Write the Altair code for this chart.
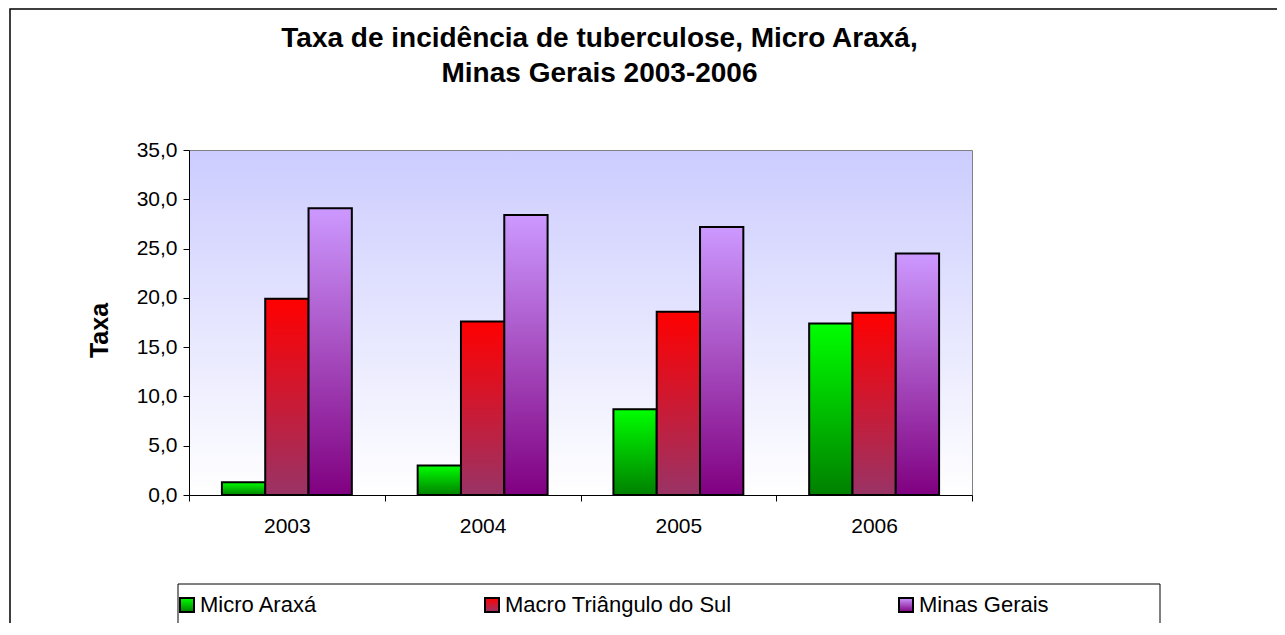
import altair as alt
import pandas as pd

# ---- data ----
anos = ["2003", "2004", "2005", "2006"]
series = ["Micro Araxá", "Macro Triângulo do Sul", "Minas Gerais"]
micro_araxa = [1.3, 3.0, 8.7, 17.4]
macro_triangulo = [19.9, 17.6, 18.6, 18.5]
minas_gerais = [29.1, 28.4, 27.2, 24.5]
y_ticks = [0, 5, 10, 15, 20, 25, 30, 35]

# gradient colours (top -> bottom) for each series
top_colors = ["#00FF00", "#FF0000", "#CC99FF"]
bottom_colors = ["#008000", "#993366", "#800080"]

rows = []
for s, vals in zip(series, [micro_araxa, macro_triangulo, minas_gerais]):
    for a, v in zip(anos, vals):
        rows.append({"Ano": a, "Série": s, "Taxa": v})
df = pd.DataFrame(rows)


def grad_expr(top, bottom):
    return alt.ExprRef(
        expr="{gradient: 'linear', x1: 0, y1: 0, x2: 0, y2: 1, stops: ["
        f"{{offset: 0, color: '{top}'}}, {{offset: 1, color: '{bottom}'}}]}}"
    )


FONT = "Liberation Sans"
W, H = 783, 345

bars = alt.Chart(df).mark_bar(stroke="black", strokeWidth=2).encode(
    x=alt.X(
        "Ano:N",
        sort=anos,
        scale=alt.Scale(paddingInner=0, paddingOuter=0),
        axis=alt.Axis(
            title=None, labelAngle=0, tickBand="extent", tickSize=6,
            tickColor="black", domainColor="black", labelFontSize=21,
            labelPadding=14, labelColor="black", labelFont=FONT,
        ),
    ),
    xOffset=alt.XOffset(
        "Série:N", sort=series,
        scale=alt.Scale(domain=series, paddingInner=0, paddingOuter=0.76),
    ),
    y=alt.Y(
        "Taxa:Q",
        scale=alt.Scale(domain=[0, 35], nice=False),
        axis=alt.Axis(
            values=y_ticks, grid=False, title="Taxa",
            titleFontSize=25, titleFontWeight="bold", titleFont=FONT,
            titleColor="black", titlePadding=24, titleY=180,
            labelExpr="replace(format(datum.value, '.1f'), '.', ',')",
            labelFontSize=21, labelFont=FONT, labelColor="black",
            labelPadding=6, tickSize=6, tickColor="black", domainColor="black",
        ),
    ),
    color=alt.Color(
        "Série:N",
        sort=series,
        scale=alt.Scale(
            domain=series,
            range=[grad_expr(t, b) for t, b in zip(top_colors, bottom_colors)],
        ),
        legend=alt.Legend(
            title=None, orient="none", legendX=-13, legendY=444,
            direction="horizontal", columns=3, columnPadding=163,
            symbolType="square", symbolSize=196, symbolStrokeColor="black",
            symbolStrokeWidth=2, labelFontSize=22, labelFont=FONT,
            labelColor="black", labelOffset=2, labelLimit=400,
        ),
    ),
)

legend_box = alt.Chart(alt.Data(values=[{}])).mark_rect(
    fillOpacity=0, stroke="black", strokeWidth=1
).encode(
    x=alt.value(-11), x2=alt.value(971), y=alt.value(434), y2=alt.value(475)
)

outer_box = alt.Chart(alt.Data(values=[{}])).mark_rect(
    fillOpacity=0, stroke="black", strokeWidth=1.5
).encode(
    x=alt.value(-179), x2=alt.value(1200), y=alt.value(-141), y2=alt.value(600)
)

chart = alt.layer(bars, legend_box, outer_box).properties(
    width=W,
    height=H,
    title=alt.TitleParams(
        text=["Taxa de incidência de tuberculose, Micro Araxá,",
              "Minas Gerais 2003-2006"],
        fontSize=28, font=FONT, fontWeight="bold", color="black",
        anchor="middle", dx=19, dy=80, offset=0, lineHeight=35,
    ),
    autosize=alt.AutoSizeParams(type="none"),
    padding={"left": 181, "top": 142, "right": 305, "bottom": 128},
    background="white",
).configure_view(
    fill=alt.ExprRef(
        expr="{gradient: 'linear', x1: 0, y1: 0, x2: 0, y2: 1, stops: ["
        "{offset: 0, color: '#CCCCFF'}, {offset: 1, color: '#FFFFFF'}]}"
    ),
    stroke="#808080",
    strokeWidth=1,
)

chart.save("out.html", embed_options={"renderer": "svg", "actions": False})
